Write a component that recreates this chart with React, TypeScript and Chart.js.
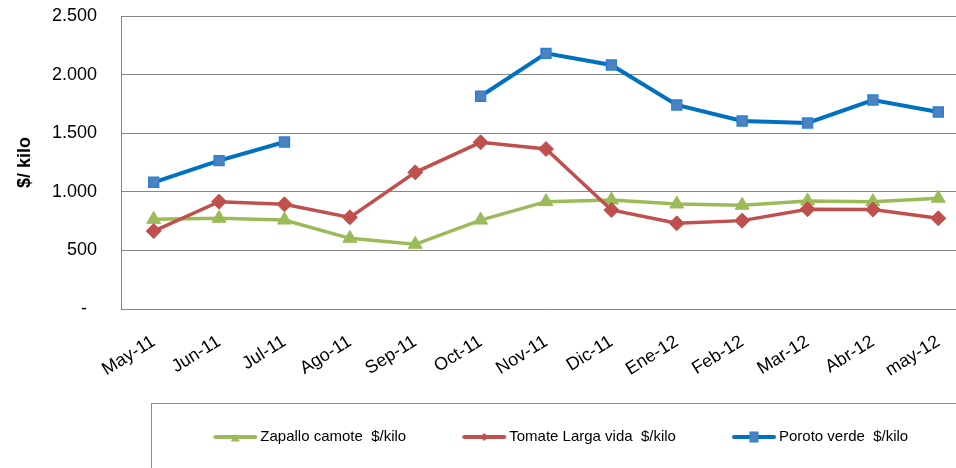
import React, { useEffect, useRef } from 'react';
import { Chart, registerables } from 'chart.js';

Chart.register(...registerables);

const months = ['May-11', 'Jun-11', 'Jul-11', 'Ago-11', 'Sep-11', 'Oct-11', 'Nov-11', 'Dic-11', 'Ene-12', 'Feb-12', 'Mar-12', 'Abr-12', 'may-12'];
const zapalloCamote = [765, 774, 759, 603, 552, 759, 916, 930, 896, 885, 921, 916, 945];
const tomateLargaVida = [665, 916, 893, 782, 1166, 1422, 1365, 845, 731, 754, 851, 848, 774];
const porotoVerde = [1081, 1266, 1425, null, null, 1815, 2181, 2082, 1741, 1604, 1587, 1783, 1681];
const seriesNames = ['Zapallo camote  $/kilo', 'Tomate Larga vida  $/kilo', 'Poroto verde  $/kilo'];
const yMin = 0;
const yMax = 2500;
const yStep = 500;

const FONT = "'Liberation Sans', Arial, sans-serif";
const GREEN = '#9BBB59';
const RED = '#C0504D';
const BLUE = '#0070C0';
const BLUE_FILL = '#4F81BD';
const BLUE_EDGE = '#2a80d6';
const GRID = '#868686';

const CANVAS_W = 1106;
const CANVAS_H = 480;
const BOX_W = 55; // legend pointStyleWidth
const ICON_W = BOX_W + 11;

function formatTick(v: number): string {
  if (v === 0) return '-  ';
  return String(v).replace(/\B(?=(\d{3})+(?!\d))/g, '.');
}

function legendIcon(kind: 'triangle' | 'diamond' | 'square'): HTMLCanvasElement {
  const c = document.createElement('canvas');
  c.width = ICON_W;
  c.height = 16;
  const ctx = c.getContext('2d')!;
  const color = kind === 'triangle' ? GREEN : kind === 'diamond' ? RED : BLUE;
  const x1 = ICON_W - 45;
  const x2 = ICON_W - 1;
  const cx = (x1 + x2) / 2;
  ctx.strokeStyle = color;
  ctx.lineWidth = 4;
  ctx.lineCap = 'round';
  ctx.beginPath();
  ctx.moveTo(x1 + 2, 8);
  ctx.lineTo(x2 - 2, 8);
  ctx.stroke();
  if (kind === 'triangle') {
    ctx.fillStyle = GREEN;
    ctx.beginPath();
    ctx.moveTo(cx, 5);
    ctx.lineTo(cx + 4.5, 12.5);
    ctx.lineTo(cx - 4.5, 12.5);
    ctx.closePath();
    ctx.fill();
  } else if (kind === 'diamond') {
    ctx.fillStyle = RED;
    ctx.beginPath();
    ctx.moveTo(cx, 4);
    ctx.lineTo(cx + 4, 8);
    ctx.lineTo(cx, 12);
    ctx.lineTo(cx - 4, 8);
    ctx.closePath();
    ctx.fill();
  } else {
    ctx.fillStyle = BLUE_FILL;
    ctx.fillRect(cx - 4, 3, 8, 10);
    ctx.strokeStyle = BLUE_EDGE;
    ctx.lineWidth = 1;
    ctx.strokeRect(cx - 4, 3, 8, 10);
  }
  return c;
}

export default function App() {
  const ref = useRef<HTMLCanvasElement>(null);

  useEffect(() => {
    const canvas = ref.current;
    if (!canvas) return;
    const icons = [legendIcon('triangle'), legendIcon('diamond'), legendIcon('square')];
    const colors = [GREEN, RED, BLUE];

    const legendBox = {
      id: 'legendBox',
      afterDraw(chart: any) {
        const ctx = chart.ctx;
        ctx.save();
        ctx.strokeStyle = '#6f91c6';
        ctx.lineWidth = 1;
        ctx.strokeRect(151.5, 403.5, 822, 140);
        ctx.restore();
      },
    };

    const chart = new Chart(canvas, {
      type: 'line',
      data: {
        labels: months,
        datasets: [
          {
            label: seriesNames[0],
            data: zapalloCamote,
            borderColor: GREEN,
            backgroundColor: GREEN,
            borderWidth: 3.5,
            pointStyle: 'triangle',
            pointRadius: 8,
            pointBackgroundColor: GREEN,
            pointBorderColor: GREEN,
            pointBorderWidth: 1,
            tension: 0,
            order: 3,
          },
          {
            label: seriesNames[1],
            data: tomateLargaVida,
            borderColor: RED,
            backgroundColor: RED,
            borderWidth: 3.5,
            pointStyle: 'rectRot',
            pointRadius: 7.5,
            pointBackgroundColor: RED,
            pointBorderColor: RED,
            pointBorderWidth: 1,
            tension: 0,
            order: 2,
          },
          {
            label: seriesNames[2],
            data: porotoVerde,
            borderColor: BLUE,
            backgroundColor: BLUE_FILL,
            borderWidth: 4,
            pointStyle: 'rect',
            pointRadius: 7,
            pointBackgroundColor: BLUE_FILL,
            pointBorderColor: BLUE_EDGE,
            pointBorderWidth: 1.5,
            tension: 0,
            spanGaps: false,
            order: 1,
          },
        ],
      },
      options: {
        animation: false,
        responsive: false,
        layout: { padding: { top: 16, left: 0, right: 0, bottom: 25.5 } },
        plugins: {
          tooltip: { enabled: false },
          legend: {
            position: 'bottom',
            labels: {
              usePointStyle: true,
              pointStyleWidth: BOX_W,
              padding: 40.5,
              color: '#000',
              font: { family: FONT, size: 15 },
              generateLabels: () =>
                seriesNames.map((name, i) => ({
                  text: name,
                  pointStyle: icons[i] as any,
                  fillStyle: colors[i],
                  strokeStyle: colors[i],
                  lineWidth: 0,
                  hidden: false,
                  datasetIndex: i,
                  fontColor: '#000',
                })),
            },
          },
        },
        scales: {
          x: {
            type: 'category',
            offset: true,
            grid: { display: false },
            border: { display: true, color: GRID, width: 1 },
            ticks: {
              autoSkip: false,
              minRotation: 32,
              maxRotation: 32,
              padding: 14,
              color: '#000',
              font: { family: FONT, size: 18 },
            },
            afterFit: (s: any) => {
              s.height = 80;
            },
          },
          y: {
            type: 'linear',
            min: yMin,
            max: yMax,
            grid: { color: GRID, lineWidth: 1, drawTicks: false },
            border: { display: true, color: GRID, width: 1 },
            ticks: {
              stepSize: yStep,
              padding: 24,
              color: '#000',
              font: { family: FONT, size: 18 },
              callback: (v: any) => formatTick(Number(v)),
            },
            title: {
              display: true,
              text: '$/ kilo',
              color: '#000',
              font: { family: FONT, size: 18, weight: 'bold' },
              padding: { top: 14, bottom: 0 },
            },
            afterFit: (s: any) => {
              s.width = 121;
              s.paddingTop = 11;
              s.paddingBottom = 11;
            },
          },
          yR: {
            type: 'linear',
            position: 'right',
            display: true,
            grid: { display: false },
            border: { display: false },
            ticks: { display: false },
            afterFit: (s: any) => {
              s.width = CANVAS_W - 971;
              s.paddingTop = 0;
              s.paddingBottom = 0;
            },
          },
        },
      },
      plugins: [legendBox],
    } as any);

    return () => chart.destroy();
  }, []);

  return (
    <div
      style={{
        position: 'fixed',
        left: 0,
        top: 0,
        width: 956,
        height: 468,
        overflow: 'hidden',
        background: '#fff',
      }}
    >
      <canvas ref={ref} width={CANVAS_W} height={CANVAS_H} style={{ display: 'block' }} />
    </div>
  );
}
